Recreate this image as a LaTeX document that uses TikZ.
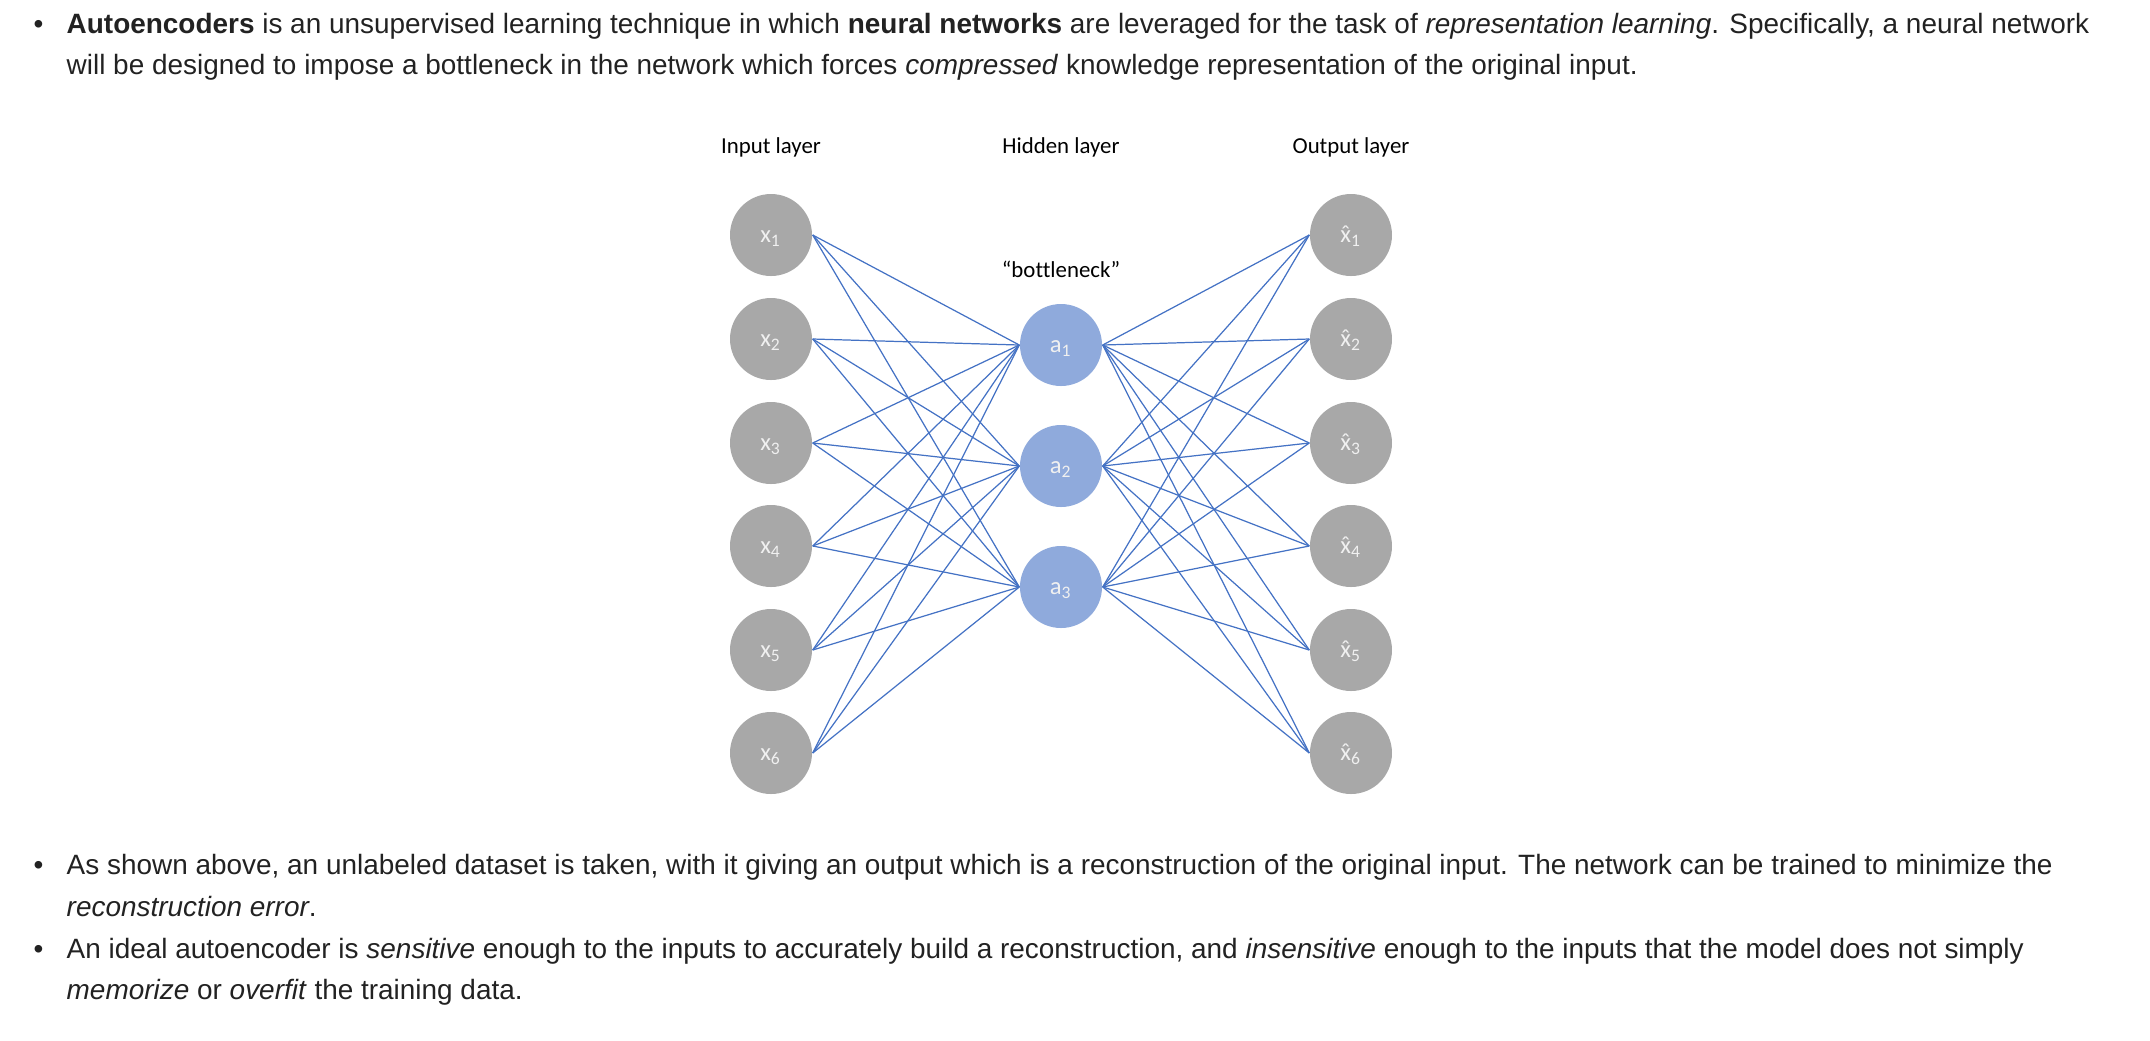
\documentclass[tikz,border=0pt]{standalone}
\usepackage{fontspec}
\setmainfont{Liberation Sans}
\newfontfamily\diagfont[Ligatures=NoCommon]{Carlito}
\usepackage{xcolor}
\usepackage{tikz}
\definecolor{bodytext}{HTML}{222222}
\definecolor{unitgray}{HTML}{A8A8A8}
\definecolor{unitblue}{HTML}{8FAADC}
\definecolor{unittext}{HTML}{F0F0F0}
\definecolor{wireblue}{HTML}{4472C4}
\newcommand{\xhat}{\accent"02C6 x}

\begin{document}
\begin{tikzpicture}[x=0.1mm, y=-0.1mm,
  para/.style={anchor=base west, inner sep=0pt, text=bodytext, font=\fontsize{7.95}{9}\selectfont},
  layer/.style={inner sep=0pt, text=black, font=\diagfont\fontsize{6.5}{7}\selectfont},
  unit/.style={circle, minimum size=8.2mm, inner sep=0pt, text height=4.5pt, text depth=0pt, fill=unitgray, text=unittext, font=\diagfont\fontsize{7}{8}\selectfont},
  code/.style={unit, fill=unitblue},
  wire/.style={draw=wireblue, line width=0.35pt}]
\useasboundingbox (0,0) rectangle (2150,1040);

% text above
\node[para] (d1) at (33,33) {•};
\node[para] (t1) at (66,33) {\textbf{Autoencoders} is an unsupervised learning technique in which \textbf{neural networks} are leveraged for the task of \textit{representation learning}. Specifically, a neural network};
\node[para] (t2) at (66,74) {will be designed to impose a bottleneck in the network which forces \textit{compressed} knowledge representation of the original input.};

% layer titles
\node[layer] (L0) at (771,147) {Input layer};
\node[layer] (L1) at (1061,147) {Hidden layer};
\node[layer] (L2) at (1351,147) {Output layer};
\node[layer] (neck) at (1061,269) {“bottleneck”};

% units
\node[unit] (i1) at (771,235) {x\textsubscript{1}};
\node[unit] (i2) at (771,339) {x\textsubscript{2}};
\node[unit] (i3) at (771,443) {x\textsubscript{3}};
\node[unit] (i4) at (771,546) {x\textsubscript{4}};
\node[unit] (i5) at (771,650) {x\textsubscript{5}};
\node[unit] (i6) at (771,753) {x\textsubscript{6}};
\node[code] (h1) at (1061,345) {a\textsubscript{1}};
\node[code] (h2) at (1061,466) {a\textsubscript{2}};
\node[code] (h3) at (1061,587) {a\textsubscript{3}};
\node[unit] (o1) at (1351,235) {\xhat\textsubscript{1}};
\node[unit] (o2) at (1351,339) {\xhat\textsubscript{2}};
\node[unit] (o3) at (1351,443) {\xhat\textsubscript{3}};
\node[unit] (o4) at (1351,546) {\xhat\textsubscript{4}};
\node[unit] (o5) at (1351,650) {\xhat\textsubscript{5}};
\node[unit] (o6) at (1351,753) {\xhat\textsubscript{6}};

% encoder
\draw[wire] (i1.east) -- (h1.west);
\draw[wire] (i1.east) -- (h2.west);
\draw[wire] (i1.east) -- (h3.west);
\draw[wire] (i2.east) -- (h1.west);
\draw[wire] (i2.east) -- (h2.west);
\draw[wire] (i2.east) -- (h3.west);
\draw[wire] (i3.east) -- (h1.west);
\draw[wire] (i3.east) -- (h2.west);
\draw[wire] (i3.east) -- (h3.west);
\draw[wire] (i4.east) -- (h1.west);
\draw[wire] (i4.east) -- (h2.west);
\draw[wire] (i4.east) -- (h3.west);
\draw[wire] (i5.east) -- (h1.west);
\draw[wire] (i5.east) -- (h2.west);
\draw[wire] (i5.east) -- (h3.west);
\draw[wire] (i6.east) -- (h1.west);
\draw[wire] (i6.east) -- (h2.west);
\draw[wire] (i6.east) -- (h3.west);
% decoder
\draw[wire] (h1.east) -- (o1.west);
\draw[wire] (h1.east) -- (o2.west);
\draw[wire] (h1.east) -- (o3.west);
\draw[wire] (h1.east) -- (o4.west);
\draw[wire] (h1.east) -- (o5.west);
\draw[wire] (h1.east) -- (o6.west);
\draw[wire] (h2.east) -- (o1.west);
\draw[wire] (h2.east) -- (o2.west);
\draw[wire] (h2.east) -- (o3.west);
\draw[wire] (h2.east) -- (o4.west);
\draw[wire] (h2.east) -- (o5.west);
\draw[wire] (h2.east) -- (o6.west);
\draw[wire] (h3.east) -- (o1.west);
\draw[wire] (h3.east) -- (o2.west);
\draw[wire] (h3.east) -- (o3.west);
\draw[wire] (h3.east) -- (o4.west);
\draw[wire] (h3.east) -- (o5.west);
\draw[wire] (h3.east) -- (o6.west);

% text below
\node[para] (d2) at (33,874) {•};
\node[para] (t3) at (66,874) {As shown above, an unlabeled dataset is taken, with it giving an output which is a reconstruction of the original input. The network can be trained to minimize the};
\node[para] (t4) at (66,916) {\textit{reconstruction error}.};
\node[para] (d3) at (33,958) {•};
\node[para] (t5) at (66,958) {An ideal autoencoder is \textit{sensitive} enough to the inputs to accurately build a reconstruction, and \textit{insensitive} enough to the inputs that the model does not simply};
\node[para] (t6) at (66,999) {\textit{memorize} or \textit{overfit} the training data.};
\end{tikzpicture}
\end{document}
